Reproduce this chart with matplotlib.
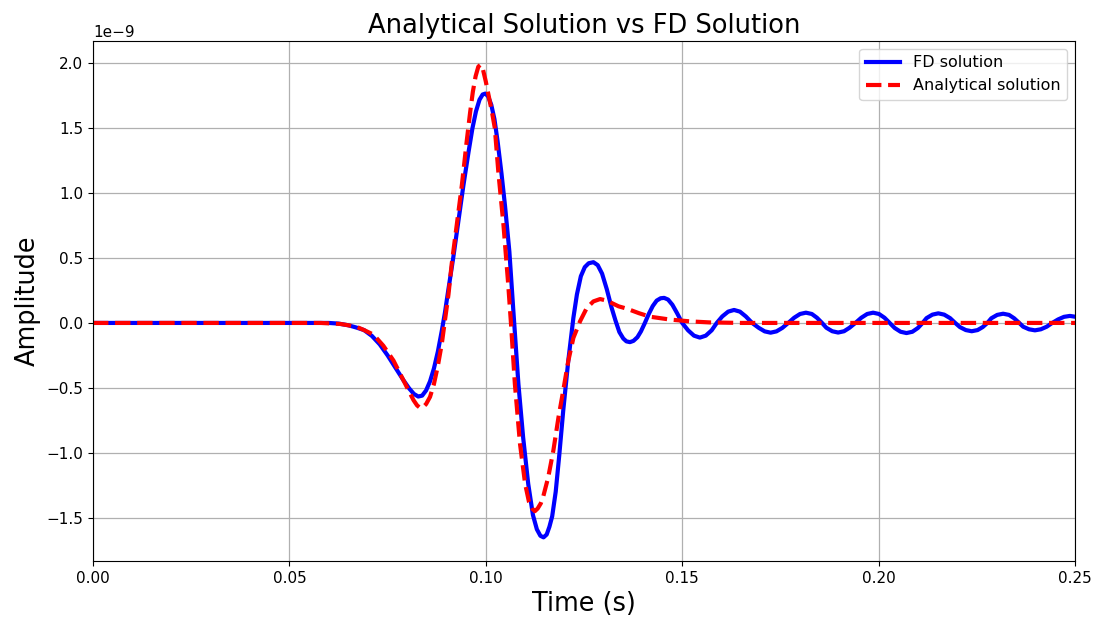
import matplotlib
matplotlib.use("Agg")
import matplotlib.pyplot as plt
import numpy as np

# FD solution (blue) — time (s), amplitude (x1e-9)
fd_t = [0.0, 0.055, 0.0600, 0.0625, 0.0650, 0.0670, 0.0690, 0.0710, 0.0730, 0.0750,
        0.0770, 0.0790, 0.0805, 0.0817, 0.0828, 0.0838, 0.0848, 0.0858, 0.0868, 0.0878,
        0.0888, 0.0896, 0.0904, 0.0917, 0.0930, 0.0943, 0.0956, 0.0966, 0.0975, 0.0984,
        0.0992, 0.0999, 0.1006, 0.1014, 0.1022, 0.1030, 0.1040, 0.1049, 0.1060, 0.1070,
        0.1083, 0.1095, 0.1108, 0.1120, 0.1130, 0.1139, 0.1147, 0.1155, 0.1162, 0.1169,
        0.1178, 0.1187, 0.1197, 0.1210, 0.1223, 0.1232, 0.1242, 0.1252, 0.1262, 0.1274,
        0.1285, 0.1296, 0.1308, 0.1320, 0.1330, 0.1340, 0.1350, 0.1358, 0.1367, 0.1376,
        0.1386, 0.1395, 0.1405, 0.1415, 0.1425, 0.1435, 0.1445, 0.1454, 0.1464, 0.1475,
        0.1487, 0.1500, 0.1515, 0.1530, 0.1545, 0.1560, 0.1575, 0.1588, 0.1602, 0.1617,
        0.1632, 0.1647, 0.1662, 0.1678, 0.1695, 0.1710, 0.1725, 0.1740, 0.1755, 0.1770,
        0.1785, 0.1800, 0.1815, 0.1830, 0.1843, 0.1856, 0.1867, 0.1882, 0.1897, 0.1912,
        0.1926, 0.1941, 0.1956, 0.1971, 0.1986, 0.2001, 0.2015, 0.2028, 0.2041, 0.2056,
        0.2071, 0.2086, 0.2100, 0.2112, 0.2122, 0.2137, 0.2152, 0.2167, 0.2182, 0.2195,
        0.2207, 0.2222, 0.2237, 0.2252, 0.2265, 0.2277, 0.2287, 0.2302, 0.2317, 0.2332,
        0.2345, 0.2358, 0.2368, 0.2383, 0.2398, 0.2413, 0.2428, 0.2442, 0.2457, 0.2472,
        0.2487, 0.2500]
fd_v = [0.0, 0.0, 0.0, -0.005, -0.018, -0.035, -0.055, -0.10, -0.165, -0.25,
        -0.345, -0.44, -0.505, -0.547, -0.567, -0.56, -0.52, -0.45, -0.35, -0.22,
        -0.06, 0.08, 0.243, 0.50, 0.78, 1.06, 1.316, 1.50, 1.63, 1.72,
        1.76, 1.767, 1.745, 1.68, 1.57, 1.40, 1.15, 0.90, 0.55, 0.10,
        -0.47, -0.88, -1.24, -1.48, -1.59, -1.64, -1.652, -1.63, -1.57, -1.49,
        -1.30, -1.02, -0.68, -0.29, 0.04, 0.22, 0.36, 0.43, 0.46, 0.468,
        0.445, 0.38, 0.26, 0.12, 0.02, -0.07, -0.12, -0.142, -0.148, -0.138,
        -0.11, -0.065, 0.0, 0.07, 0.13, 0.172, 0.19, 0.193, 0.18, 0.14,
        0.075, 0.0, -0.057, -0.098, -0.113, -0.098, -0.057, 0.0, 0.05, 0.087,
        0.100, 0.087, 0.05, 0.0, -0.038, -0.065, -0.075, -0.065, -0.038, 0.0,
        0.04, 0.069, 0.079, 0.069, 0.04, 0.0, -0.037, -0.064, -0.074, -0.064,
        -0.037, 0.0, 0.04, 0.069, 0.079, 0.069, 0.04, 0.0, -0.039, -0.068,
        -0.078, -0.068, -0.039, 0.0, 0.037, 0.064, 0.074, 0.064, 0.037, 0.0,
        -0.032, -0.055, -0.064, -0.055, -0.032, 0.0, 0.036, 0.062, 0.071, 0.062,
        0.036, 0.0, -0.029, -0.049, -0.057, -0.049, -0.029, 0.0, 0.027, 0.047,
        0.054, 0.048]

# Analytical solution (red dashed) — time (s), amplitude (x1e-9)
an_t = [0.0, 0.058, 0.0630, 0.0650, 0.0671, 0.0690, 0.0714, 0.0739, 0.0765, 0.0790,
        0.0805, 0.0816, 0.0825, 0.0833, 0.0840, 0.0848, 0.0858, 0.0868, 0.0878, 0.0888,
        0.0896, 0.0905, 0.0913, 0.0926, 0.0939, 0.0951, 0.0960, 0.0967, 0.0974, 0.0981,
        0.0987, 0.0993, 0.1000, 0.1008, 0.1016, 0.1023, 0.1032, 0.1045, 0.1057, 0.1064,
        0.1074, 0.1087, 0.1100, 0.1110, 0.1118, 0.1125, 0.1132, 0.1140, 0.1146, 0.1159,
        0.1172, 0.1185, 0.1197, 0.1210, 0.1223, 0.1240, 0.1257, 0.1274, 0.1291, 0.1308,
        0.1338, 0.1359, 0.1390, 0.1418, 0.1469, 0.1520, 0.1570, 0.1650, 0.2500]
an_v = [0.0, 0.0, -0.008, -0.018, -0.03, -0.055, -0.09, -0.175, -0.29, -0.44,
        -0.53, -0.595, -0.635, -0.655, -0.65, -0.625, -0.57, -0.47, -0.33, -0.16,
        0.02, 0.22, 0.45, 0.754, 1.06, 1.39, 1.62, 1.78, 1.90, 1.975,
        1.99, 1.95, 1.86, 1.74, 1.62, 1.50, 1.16, 0.754, 0.30, 0.0,
        -0.47, -0.93, -1.238, -1.38, -1.43, -1.45, -1.43, -1.39, -1.34, -1.188,
        -0.983, -0.728, -0.523, -0.293, -0.115, 0.013, 0.115, 0.166, 0.184, 0.172,
        0.128, 0.110, 0.075, 0.048, 0.026, 0.012, 0.004, 0.0, 0.0]

scale = 1e-9

fig = plt.figure(figsize=(10.97, 6.23), dpi=100)
ax = fig.add_axes([93/1097, 1 - 561/623, (1075-93)/1097, (561-41)/623])
ax.plot(fd_t, np.array(fd_v) * scale, color='blue', lw=3, label='FD solution')
ax.plot(an_t, np.array(an_v) * scale, color='red', lw=3, ls='--', label='Analytical solution')
ax.set_xlim(0, 0.25)
ax.grid(True, color='#b0b0b0', lw=0.9)
ax.set_title('Analytical Solution vs FD Solution', fontsize=18.5)
ax.set_xlabel('Time (s)', fontsize=18.4)
ax.set_ylabel('Amplitude', fontsize=18.4)
ax.tick_params(labelsize=11)
ax.yaxis.get_offset_text().set_fontsize(11)
ax.legend(loc='upper right', fontsize=11.5, handlelength=2.15)
fig.savefig('out.png', dpi=100)
